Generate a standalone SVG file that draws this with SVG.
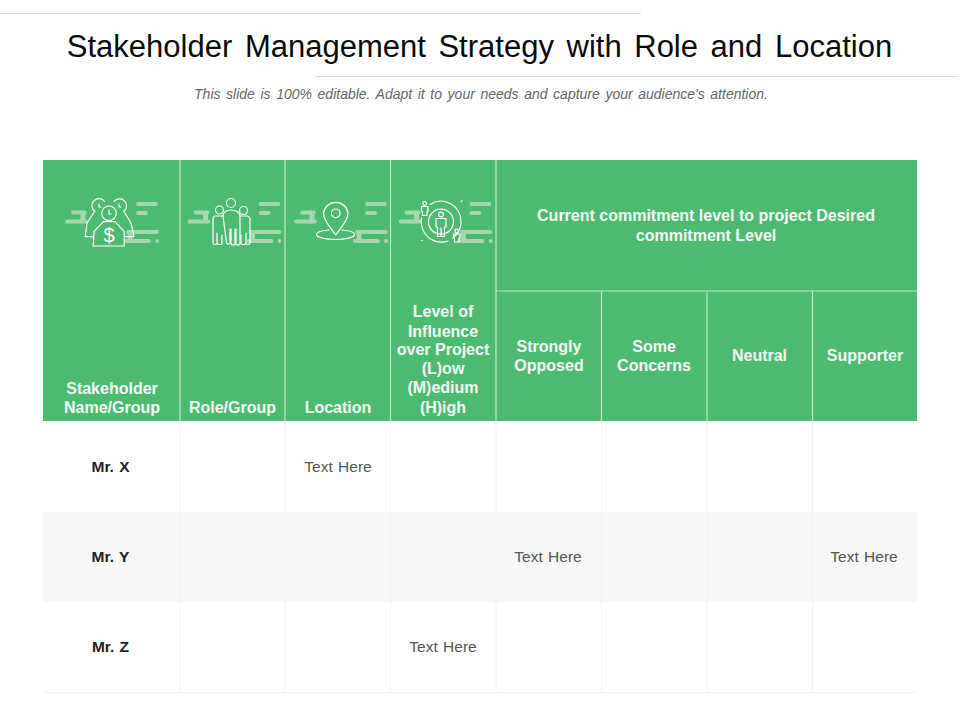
<svg xmlns="http://www.w3.org/2000/svg" xmlns:xlink="http://www.w3.org/1999/xlink" width="960" height="720" viewBox="0 0 960 720">
<style>
text{font-family:"Liberation Sans",Arial,sans-serif}
.h{fill:#f4faf5;font-size:16px;font-weight:700;text-anchor:middle}
.c{fill:#555;font-size:15.5px;text-anchor:middle;word-spacing:1px}
.n{fill:#222;font-size:15.5px;font-weight:700;text-anchor:middle;word-spacing:1px}
.hl{stroke:#c4e6cd;stroke-width:1.200;fill:none}
.gl{stroke:#f2f2f2;stroke-width:1;fill:none}
.ic{stroke:#fff;stroke-width:1.200;fill:none;stroke-linejoin:round;stroke-linecap:round}
.d{stroke:#a5d8b1;stroke-width:3.800;stroke-linecap:round;fill:none}
.dc{stroke:#a5d8b1;stroke-width:5;fill:none}
</style>
<defs>
<g id="decor">
<path class="d" d="M138 204H156M138 213H146M73 212.500H85M67 221.500H86M128 232H157M126 241H149M157 241h.1"/>
<path class="dc" d="M83 212.500V221.500M130 232V241"/>
</g>
</defs>
<g id="title">
<rect x="0" y="13" width="641" height="1" fill="#ddd"/>
<rect x="316" y="76" width="642" height="1" fill="#ddd"/>
<text x="479.500" y="57" font-size="31" fill="#0a0a0a" text-anchor="middle" word-spacing="4">Stakeholder Management Strategy with Role and Location</text>
<text x="481" y="99" font-size="14" font-style="italic" fill="#666" text-anchor="middle" word-spacing="1.700">This slide is 100% editable.  Adapt it to your needs and capture your audience's attention.</text>
</g>
<g id="table-background">
<rect x="43" y="160" width="874" height="261" fill="#4dba71"/>
<rect x="43" y="512" width="874" height="90" fill="#f7f7f7"/>
</g>
<g id="table-lines">
<path class="hl" d="M180 160V421M285 160V421M390.500 160V421M496 160V421M601.500 291V421M707 291V421M812.500 291V421M496 291H917"/>
<path class="gl" d="M180 421V692M285 421V692M390.500 421V692M496 421V692M601.500 421V692M707 421V692M812.500 421V692M43 692.500H917"/>
</g>
<g id="icon-stakeholder">
<use xlink:href="#decor" href="#decor"/>
<g class="ic">
<circle cx="109" cy="213.300" r="7.300"/>
<path d="M95 211.500A7 7 0 1 1 104.500 201.500M114 201.500A7 7 0 1 1 123.600 211.500"/>
<path d="M94 212.500L87 223L85.300 236.700H93.500M124.500 212.500L131 223L134 236.700H124.500"/>
<path d="M93.300 246L94 231.700L103.300 221.700H115L124.300 231.700V246Z"/>
<path d="M99 204v3h2M119 204v3h2M109 210v4h2"/>
</g>
<text x="109" y="242" font-size="20" fill="#fff" text-anchor="middle">$</text>
</g>
<g id="icon-role">
<use xlink:href="#decor" href="#decor" transform="translate(122.500 0)"/>
<g class="ic">
<circle cx="231" cy="203" r="4.500"/>
<circle cx="219.500" cy="210" r="4"/>
<circle cx="243.500" cy="210.500" r="4"/>
<path d="M223 216c0-4 4-6 8-6s9 2 9 6v27a2 2 0 0 1-4 0V229h-1v14a2 2 0 0 1-4 0v-14h-1v14a2 2 0 0 1-3.500 0Z"/>
<path d="M223 216h-8c-2 0-2 2-2 4v23c0 2 4 2 4 0v-10M217 243c0 2 5 2 5 0v-8"/>
<path d="M240 216h7c2 0 3 2 3 4v23c0 2-4 2-4 0v-10M246 243c0 2-5 2-5 0v-8"/>
</g>
</g>
<g id="icon-location">
<use xlink:href="#decor" href="#decor" transform="translate(229 0)"/>
<g class="ic">
<path d="M335.700 235C332 229 323.500 221 323.500 213.500a12.300 12.300 0 0 1 24.500 0C348 221 339.500 229 335.700 235Z"/>
<circle cx="335.700" cy="213.300" r="4.300"/>
<path d="M329 230c-6 .5-12.500 2-12.500 4.500 0 3 9 5 19 5s19-2 19-5c0-2.500-6.500-4-12.500-4.500"/>
</g>
</g>
<g id="icon-influence">
<use xlink:href="#decor" href="#decor" transform="translate(333.500 0)"/>
<g class="ic">
<path d="M430 204.500a20 20 0 0 1 31 17.200 20 20 0 0 1-8 16M448 241a20 20 0 0 1-24-9 20 20 0 0 1-2.500-14"/>
<circle cx="441" cy="221.700" r="12.500"/>
<circle cx="441" cy="214.500" r="2.400"/>
<path d="M436 218.500h10v8.500h-1.500v9.500h-7v-9.500h-1.500ZM441 228v8.500"/>
<circle cx="424.700" cy="203.500" r="1.800"/>
<path d="M421.500 206.500h6.500v5h-1v4h-4.500v-4h-1Z"/>
<circle cx="456.700" cy="231" r="1.800"/>
<path d="M453.500 234h6.500v4h-1v4h-4.500v-4h-1Z"/>
<path d="M461 202l1-1.500M422 240.500h.5"/>
</g>
</g>
<g id="header-cells">
<text class="h"><tspan x="112" y="394">Stakeholder</tspan><tspan x="112" y="413">Name/Group</tspan></text>
<text class="h" x="232.500" y="413">Role/Group</text>
<text class="h" x="338" y="413">Location</text>
<text class="h"><tspan x="443" y="317">Level of</tspan><tspan x="443" y="337">Influence</tspan><tspan x="443" y="355">over Project</tspan><tspan x="443" y="374">(L)ow</tspan><tspan x="443" y="393">(M)edium</tspan><tspan x="443" y="413">(H)igh</tspan></text>
<text class="h"><tspan x="706" y="221">Current commitment level to project Desired</tspan><tspan x="706" y="241">commitment Level</tspan></text>
<text class="h"><tspan x="549" y="352">Strongly</tspan><tspan x="549" y="371">Opposed</tspan></text>
<text class="h"><tspan x="654" y="352">Some</tspan><tspan x="654" y="371">Concerns</tspan></text>
<text class="h" x="759.500" y="361">Neutral</text>
<text class="h" x="865" y="361">Supporter</text>
</g>
<g id="rows">
<text class="n" x="110.500" y="472">Mr. X</text>
<text class="c" x="338" y="472">Text Here</text>
<text class="n" x="110.500" y="562">Mr. Y</text>
<text class="c" x="548" y="562">Text Here</text>
<text class="c" x="864" y="562">Text Here</text>
<text class="n" x="110.500" y="652">Mr. Z</text>
<text class="c" x="443" y="652">Text Here</text>
</g>
</svg>
